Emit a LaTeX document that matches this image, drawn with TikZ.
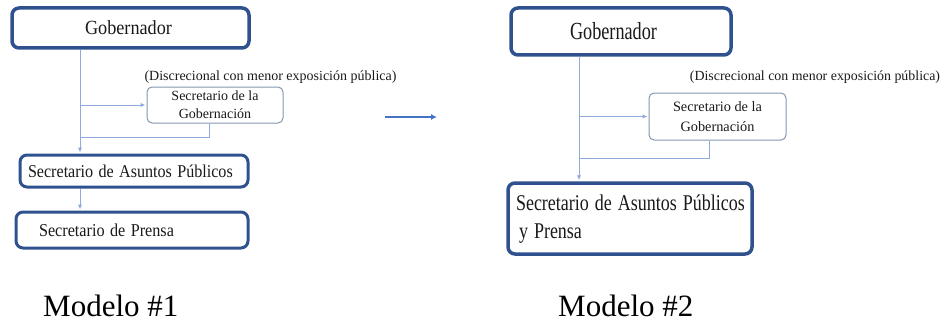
\documentclass[tikz,border=0pt]{standalone}
\usepackage{graphicx}
\usepackage{fontspec}
\setmainfont{Liberation Serif}
\usetikzlibrary{arrows.meta}
\definecolor{boxblue}{HTML}{2F528F}
\definecolor{linkblue}{HTML}{8FAADC}
\definecolor{arrowblue}{HTML}{4472C4}
\definecolor{thinbox}{HTML}{8497B0}
\definecolor{txt}{HTML}{1A1A1A}
\begin{document}
\begin{tikzpicture}[x=1pt,y=-1pt,
 bigbox/.style={draw=boxblue, line width=3.5pt, rounded corners=7pt, fill=white, text=txt, inner sep=0pt},
 smallbox/.style={draw=thinbox, line width=1pt, rounded corners=5pt, fill=white, text=txt, align=center, inner sep=0pt},
 link/.style={draw=linkblue, line width=1pt},
 linkarrow/.style={link, -{Latex[length=5pt,width=4.5pt]}, shorten >=1pt},
 note/.style={text=txt, inner sep=0pt, font=\fontsize{14}{16}\selectfont},
 caption/.style={text=black, inner sep=0pt, font=\fontsize{31}{36}\selectfont}]
\useasboundingbox (0,0) rectangle (945,321);

% ---------- Modelo 1 ----------
\node[bigbox, minimum width=237pt, minimum height=40pt] (gob1) at (130.5,28)
  {\fontsize{18.2}{20}\selectfont\scalebox{1}[1.1]{Gobernador}\kern4pt};
\node[note] (disc1) at (270.5,77) {(Discrecional con menor exposición pública)};
\node[smallbox, minimum width=136pt, minimum height=36pt, font=\fontsize{14}{18}\selectfont] (sec1) at (215,105)
  {Secretario de la\\Gobernación};
\node[bigbox, line width=3pt, text width=212pt, inner xsep=8pt, minimum height=32pt, align=left,
  font=\fontsize{16.1}{18}\selectfont] (asu1) at (134,171)
  {\scalebox{1}[1.12]{Secretario de Asuntos Públicos}};
\node[bigbox, line width=3pt, text width=186pt, inner xsep=23pt, minimum height=36pt, align=left,
  font=\fontsize{16.2}{18}\selectfont] (pre1) at (132,230)
  {\scalebox{1}[1.12]{Secretario de Prensa}};

\coordinate (c1) at (80,0);
\coordinate (r1) at (209,0);
\coordinate (j1) at (80,137);
\draw[linkarrow] (gob1.south -| c1) -- (asu1.north -| c1);
\draw[linkarrow] (sec1.west -| c1) -- (sec1.west);
\draw[link] (sec1.south -| r1) |- (j1);
\draw[linkarrow] (asu1.south -| c1) -- (pre1.north -| c1);

% ---------- flecha central ----------
\coordinate (ma) at (385,117);
\coordinate (mb) at (437,117);
\draw[draw=arrowblue, line width=2pt, -{Latex[length=6pt,width=6pt]}] (ma) -- (mb);

% ---------- Modelo 2 ----------
\node[bigbox, minimum width=220pt, minimum height=47pt] (gob2) at (621,31.5)
  {\fontsize{18.2}{20}\selectfont\scalebox{1}[1.35]{Gobernador}\kern15pt};
\node[note, font=\fontsize{13.9}{16}\selectfont] (disc2) at (815,77) {(Discrecional con menor exposición pública)};
\node[smallbox, minimum width=137pt, minimum height=47pt, font=\fontsize{14.3}{20}\selectfont] (sec2) at (717.5,116.5)
  {Secretario de la\\Gobernación};
\node[bigbox, text width=228pt, inner xsep=8pt, minimum height=71pt, align=left,
  font=\fontsize{18}{22.4}\selectfont] (asu2) at (630,218.5)
  {\scalebox{1}[1.25]{\begin{tabular}{@{}l@{}}Secretario de Asuntos Públicos\\\hspace{3pt}y Prensa\end{tabular}}};

\coordinate (c2) at (579,0);
\coordinate (r2) at (709,0);
\coordinate (j2) at (579,158);
\draw[linkarrow] (gob2.south -| c2) -- (asu2.north -| c2);
\draw[linkarrow] (sec2.west -| c2) -- (sec2.west);
\draw[link] (sec2.south -| r2) |- (j2);

% ---------- leyendas ----------
\node[caption, anchor=base west] (m1) at (43,316) {Modelo \#1};
\node[caption, anchor=base west] (m2) at (558,316) {Modelo \#2};
\end{tikzpicture}
\end{document}
